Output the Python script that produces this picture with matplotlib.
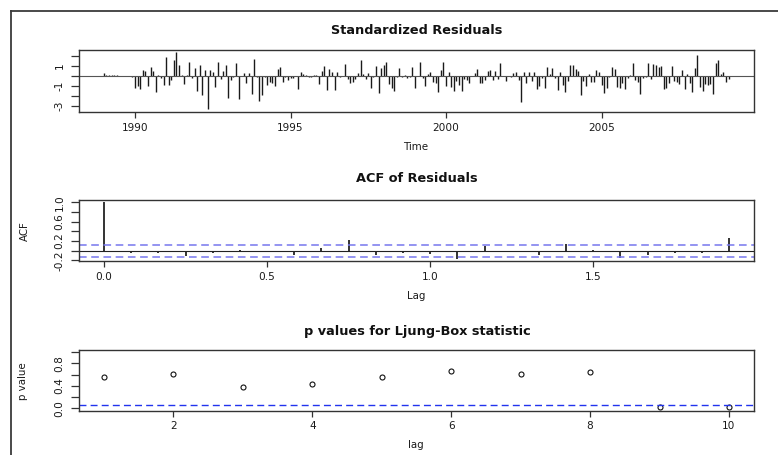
import numpy as np
import matplotlib
matplotlib.use("Agg")
import matplotlib.pyplot as plt
from matplotlib.lines import Line2D

plt.rcParams['font.family'] = ['DejaVu Sans']
plt.rcParams['axes.unicode_minus'] = False

# standardized residuals, monthly from Jan 1989
resid = [0.25, 0.12, 0.12, 0.12, 0.12, 0.12, 0.02, -0.01, 0.01, -0.02, 0.01, -0.15,
         -1.2, -1.0, -1.3, 0.6, 0.45, -1.0, 0.9, 0.5, -1.6, 0.05, -0.25, -0.9,
         1.9, -0.9, -0.4, 1.6, 2.4, 1.1, 0.05, -0.8, 0.05, 1.4, -0.2, 0.8,
         -1.5, 1.1, -1.9, 0.6, -3.3, 0.6, 0.4, -1.1, 1.4, -0.3, 0.5, 1.1,
         -2.2, -0.4, -0.1, 1.3, -2.3, 0.0, 0.3, -0.7, 0.3, -1.8, 1.7, -0.1,
         -2.5, -1.9, -0.1, -0.9, -0.6, -0.7, -1.0, 0.7, 0.9, -0.6, -0.1, -0.4,
         -0.2, -0.2, 0.0, -1.3, 0.4, 0.2, 0.1, -0.1,
         -0.1, 0.05, 0.1, -0.8, 0.5, 1.0, -1.4, 0.7, 0.4, -1.4, 0.4, -0.1,
         -0.05, 1.2, -0.3, -0.7, -0.6, -0.3, 0.3, 1.6, 0.2, -0.3, 0.3, -1.2,
         -0.1, 1.0, -1.7, 0.8, 1.1, 1.4, -0.8, -1.2, -1.5, -0.1, 0.8, -0.1,
         0.1, -0.2, -0.1, 0.9, -1.2, -0.05, 1.4, -0.2,
         -1.0, 0.2, 0.4, -0.6, -0.7, -1.6, 0.6, 1.4, -1.0, 0.4, -1.1, -1.5,
         -0.5, -0.9, -1.5, -0.3, -0.4, -0.7, 0.0, 0.3, 0.7, -0.7, -0.7, -0.4,
         0.5, 0.6, -0.4, 0.5, -0.3, 1.3, 0.0, -0.5, 0.0, -0.1, 0.3, 0.4,
         -0.4, -2.6, 0.4, -0.7, 0.4, -0.5, 0.4,
         -1.3, -1.0, -0.2, -1.2, 0.9, 0.2, 0.8, -0.2, -1.4, 0.4, -0.9, -1.6,
         -0.5, 1.1, 1.1, 0.7, 0.5, -1.9, -0.5, -1.0, 0.2, -0.6, -0.6, 0.6,
         0.4, -0.9, -1.7, -1.2, -0.1, 0.9, 0.7, -1.1, -1.2, -0.7, -1.3, -0.2,
         0.1, 1.3, -0.4, -0.6, -1.8, -0.2, -0.1, 1.3,
         -0.3, 1.2, 1.1, 0.9, 1.0, -1.3, -1.2, -0.7, 1.0, -0.5, -0.6, -0.8,
         0.6, -1.3, 0.2, -0.7, -1.6, 0.8, 2.1, -1.1, -1.5, -0.8, -0.9, -0.8,
         -1.8, 1.3, 1.6, 0.2, 0.4, -0.6, -0.3]
start_year = 1989

# acf of residuals, lags 0..23 months
acf_vals = [1.0, -0.04, -0.05, -0.12, -0.05, 0.01, -0.02, -0.09, 0.05, 0.22,
            -0.10, -0.05, -0.07, -0.167, 0.10, -0.03, -0.09, 0.14, 0.01, -0.16,
            -0.09, -0.04, -0.05, 0.27]
conf = 0.126

# ljung-box p values
lb_lags = [1, 2, 3, 4, 5, 6, 7, 8, 9, 10]
lb_p = [0.55, 0.62, 0.38, 0.44, 0.55, 0.67, 0.61, 0.65, 0.03, 0.03]

W, H = 778, 455
fig = plt.figure(figsize=(W / 100, H / 100), dpi=100)

def box(l, t, r, b):
    return [l / W, 1 - b / H, (r - l) / W, (b - t) / H]

def style(ax):
    for s in ax.spines.values():
        s.set_color('#333333')
        s.set_linewidth(1.0)
    ax.tick_params(axis='x', length=4.1, width=0.9, color='#333333', pad=3.5, labelsize=7.6, labelcolor='#1a1a1a')
    ax.tick_params(axis='y', length=5.8, width=0.9, color='#333333', pad=4.5, labelsize=7.6, labelcolor='#1a1a1a')
    for lab in ax.get_yticklabels():
        lab.set_rotation(90)
        lab.set_va('center')

tfont = dict(fontsize=9.3, fontweight='bold', color='#111111', ha='center', va='center')
lfont = dict(fontsize=7.4, color='#1a1a1a', ha='center', va='center')

# ---------- standardized residuals ----------
ax1 = fig.add_axes(box(79, 50, 754, 112))
t = start_year + np.arange(len(resid)) / 12
ax1.vlines(t, 0, resid, color='#1a1a1a', lw=1.0)
ax1.axhline(0, color='#555555', lw=0.8)
ax1.set_xlim(1988.2, 2009.9)
ax1.set_ylim(-3.58, 2.56)
ax1.set_xticks([1990, 1995, 2000, 2005])
ax1.set_xticklabels(['1990', '1995', '2000', '2005'])
ax1.set_yticks([-3, -2, -1, 0, 1, 2])
ax1.set_yticklabels(['-3', '', '-1', '', '1', ''])
style(ax1)
fig.text(417 / W, 1 - 31 / H, 'Standardized Residuals', **tfont)
fig.text(416 / W, 1 - 147 / H, 'Time', **lfont)

# ---------- acf ----------
ax2 = fig.add_axes(box(79, 200, 754, 261))
lags = np.arange(len(acf_vals)) / 12
ax2.vlines(lags, 0, acf_vals, color='#111111', lw=1.2)
ax2.axhline(0, color='#222222', lw=0.8)
ax2.axhline(conf, color='#7777ee', lw=1.1, ls=(0, (5, 3)))
ax2.axhline(-conf, color='#7777ee', lw=1.1, ls=(0, (5, 3)))
ax2.set_xlim(-0.0767, 1.993)
ax2.set_ylim(-0.215, 1.047)
ax2.set_xticks([0, 0.5, 1.0, 1.5])
ax2.set_xticklabels(['0.0', '0.5', '1.0', '1.5'])
ax2.set_yticks([-0.2, 0, 0.2, 0.4, 0.6, 0.8, 1.0])
ax2.set_yticklabels(['-0.2', '', '0.2', '', '0.6', '', '1.0'])
style(ax2)
fig.text(417 / W, 1 - 178 / H, 'ACF of Residuals', **tfont)
fig.text(416 / W, 1 - 296 / H, 'Lag', **lfont)
fig.text(25 / W, 1 - 231 / H, 'ACF', rotation=90, **lfont)

# ---------- ljung-box ----------
ax3 = fig.add_axes(box(79, 350, 754, 410.5))
ax3.plot(lb_lags, lb_p, 'o', ms=3.6, mfc='none', mec='#111111', mew=0.8)
ax3.axhline(0.05, color='#2233ee', lw=1.0, ls=(0, (5, 3)))
ax3.set_xlim(0.64, 10.36)
ax3.set_ylim(-0.04, 1.04)
ax3.set_xticks([2, 4, 6, 8, 10])
ax3.set_xticklabels(['2', '4', '6', '8', '10'])
ax3.set_yticks([0, 0.2, 0.4, 0.6, 0.8, 1.0])
ax3.set_yticklabels(['0.0', '', '0.4', '', '0.8', ''])
style(ax3)
fig.text(417 / W, 1 - 332 / H, 'p values for Ljung-Box statistic', **tfont)
fig.text(416 / W, 1 - 445 / H, 'lag', **lfont)
fig.text(23 / W, 1 - 381 / H, 'p value', rotation=90, **lfont)

# outer frame (top and left)
fig.add_artist(Line2D([10.5 / W, 1], [1 - 11 / H, 1 - 11 / H], color='#3a3a3a', lw=1.3, transform=fig.transFigure))
fig.add_artist(Line2D([10.5 / W, 10.5 / W], [0, 1 - 11 / H], color='#3a3a3a', lw=1.3, transform=fig.transFigure))

fig.savefig('out.png', dpi=100)
